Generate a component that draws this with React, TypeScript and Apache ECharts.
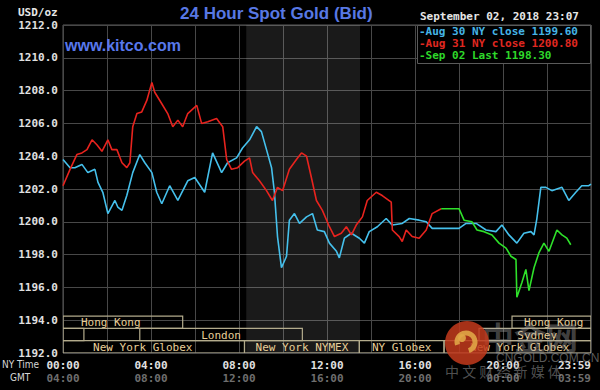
import React, { useEffect, useRef } from "react";
import * as echarts from "echarts";

// ---- data (hours since 00:00 NY time, USD/oz) ----
const aug30Hours = [0, 0.32, 0.54, 0.86, 1.13, 1.45, 1.59, 1.81, 2.04, 2.36, 2.49, 2.68, 2.9, 3.17, 3.49, 3.72, 4.04, 4.26, 4.49, 4.85, 5.22, 5.67, 5.99, 6.44, 6.8, 7.21, 7.48, 7.89, 8.16, 8.48, 8.8, 9.02, 9.25, 9.48, 9.61, 9.75, 9.93, 10.16, 10.29, 10.52, 10.75, 11.07, 11.34, 11.56, 11.88, 12.11, 12.43, 12.56, 12.79, 13.11, 13.47, 13.7, 13.92, 14.29, 14.69, 14.97, 15.42, 15.74, 16.19, 16.51, 16.78, 18.0, 18.32, 18.78, 19.23, 19.68, 19.95, 20.27, 20.63, 20.95, 21.27, 21.41, 21.54, 21.72, 21.95, 22.22, 22.68, 22.99, 23.31, 23.58, 23.9, 24.0];
const aug30Prices = [1203.8, 1203.3, 1203.3, 1203.5, 1203.0, 1203.2, 1202.4, 1201.8, 1200.5, 1201.3, 1200.9, 1200.7, 1201.6, 1203.0, 1204.1, 1203.6, 1203.0, 1201.8, 1201.1, 1202.2, 1201.3, 1202.5, 1202.7, 1201.8, 1204.2, 1203.0, 1203.6, 1203.9, 1204.5, 1205.0, 1205.8, 1205.5, 1204.4, 1203.3, 1201.8, 1199.1, 1197.2, 1197.9, 1200.1, 1200.5, 1199.9, 1200.3, 1200.5, 1199.5, 1199.4, 1198.7, 1198.2, 1197.8, 1199.0, 1199.3, 1199.0, 1198.7, 1199.4, 1199.7, 1200.2, 1199.8, 1199.9, 1200.2, 1200.1, 1200.0, 1199.6, 1199.6, 1199.9, 1199.9, 1199.5, 1199.4, 1199.8, 1199.2, 1198.7, 1199.3, 1199.4, 1199.2, 1200.2, 1202.1, 1202.1, 1201.9, 1202.1, 1201.3, 1201.8, 1202.2, 1202.2, 1202.3];

const aug31Hours = [0, 0.32, 0.63, 0.86, 1.09, 1.32, 1.54, 1.77, 2.04, 2.22, 2.45, 2.68, 2.9, 3.04, 3.17, 3.36, 3.58, 3.81, 4.04, 4.17, 4.49, 4.76, 4.99, 5.22, 5.44, 5.67, 6.08, 6.3, 6.58, 6.98, 7.26, 7.44, 7.66, 7.94, 8.25, 8.48, 8.62, 8.93, 9.25, 9.52, 9.75, 9.98, 10.29, 10.61, 10.84, 11.07, 11.29, 11.52, 11.79, 12.11, 12.34, 12.65, 12.88, 13.11, 13.33, 13.61, 13.83, 14.24, 14.51, 14.92, 14.97, 15.28, 15.42, 15.6, 15.87, 16.19, 16.51, 16.78, 17.19];
const aug31Prices = [1202.2, 1203.2, 1204.1, 1204.2, 1204.4, 1205.0, 1204.7, 1204.3, 1205.0, 1204.4, 1204.4, 1203.6, 1203.3, 1203.6, 1205.8, 1206.6, 1206.7, 1207.4, 1208.5, 1207.9, 1207.2, 1206.6, 1205.8, 1206.2, 1205.8, 1206.6, 1207.1, 1206.0, 1206.1, 1206.3, 1205.8, 1203.8, 1203.2, 1203.3, 1203.7, 1203.9, 1203.0, 1202.5, 1201.9, 1201.3, 1202.1, 1201.9, 1203.2, 1203.8, 1204.2, 1204.0, 1202.7, 1201.3, 1200.7, 1199.7, 1199.1, 1199.3, 1199.7, 1199.2, 1199.8, 1200.3, 1201.3, 1201.8, 1201.6, 1201.2, 1199.5, 1199.1, 1198.8, 1199.5, 1199.1, 1199.0, 1199.5, 1200.5, 1200.8];

const sep02Hours = [17.19, 18.0, 18.23, 18.59, 18.82, 19.14, 19.5, 19.82, 20.14, 20.36, 20.59, 20.63, 20.86, 21.04, 21.18, 21.41, 21.63, 21.86, 22.09, 22.45, 22.68, 22.9, 23.08];
const sep02Prices = [1200.8, 1200.8, 1200.1, 1200.0, 1199.5, 1199.4, 1199.2, 1198.7, 1198.4, 1197.9, 1197.7, 1195.4, 1196.3, 1197.1, 1195.8, 1197.2, 1198.1, 1198.7, 1198.2, 1199.5, 1199.2, 1199.0, 1198.6];

const legendLabels = ["-Aug 30 NY close 1199.60", "-Aug 31 NY close 1200.80", "-Sep 02 Last 1198.30"];
const yTicks = { min: 1192, max: 1212, step: 2 };
const nyTimeLabels: Record<number, string> = { 0: "00:00", 4: "04:00", 8: "08:00", 12: "12:00", 16: "16:00", 20: "20:00", 24: "23:59" };
const gmtTimeLabels: Record<number, string> = { 0: "04:00", 4: "08:00", 8: "12:00", 12: "16:00", 16: "20:00", 20: "00:00", 24: "03:59" };

const nymexSession = [8.33, 13.5];
const sessionStarts = [-1.1, 20.41, -1.0, 3.49, 18.91, -1.0, 8.25, 13.47, 17.32];
const sessionEnds = [5.44, 24.2, 0.95, 10.88, 24.2, 8.25, 13.47, 17.32, 24.2];
const sessionRows = [0, 0, 1, 1, 1, 2, 2, 2, 2];
const sessionNames = ["Hong Kong", "Hong Kong", "", "London", "Sydney", "New York Globex", "New York NYMEX", "NY Globex", "New York Globex"];

const MONO = "'DejaVu Sans Mono', 'Liberation Mono', monospace";
const SANS = "'Liberation Sans', Arial, sans-serif";
const COND = "'DejaVu Sans Condensed', 'DejaVu Sans', sans-serif";

export default function App() {
  const ref = useRef<HTMLDivElement>(null);
  useEffect(() => {
    document.body.style.margin = "0";
    document.body.style.background = "#000";
    const chart = echarts.init(ref.current!, null, { renderer: "svg" });
    const pairs = (h: number[], p: number[]) => h.map((x, i) => [x, p[i]]);
    const rowTop = [1194.25, 1193.5, 1192.75];
    const rowH = 0.75;
    const sessionData = sessionStarts.map((s, i) => [s, sessionEnds[i], sessionRows[i]]);

    chart.setOption({
      animation: false,
      backgroundColor: "#000",
      grid: { left: 63, right: 9, top: 25, bottom: 37, show: true, borderColor: "#5a5a5a", borderWidth: 1, backgroundColor: "#000" },
      xAxis: {
        type: "value",
        min: 0,
        max: 24,
        interval: 2,
        axisLine: { show: false },
        axisTick: { show: false },
        splitLine: { show: true, lineStyle: { color: "#484848", width: 1 } },
        axisLabel: {
          margin: 6,
          alignMaxLabel: "right",
          fontFamily: MONO,
          fontWeight: "bold",
          fontSize: 11,
          lineHeight: 13,
          color: "#dddddd",
          formatter: (v: number) => (nyTimeLabels[v] ? `{a|${nyTimeLabels[v]}}\n{g|${gmtTimeLabels[v]}}` : ""),
          rich: {
            a: { fontFamily: MONO, fontWeight: "bold", fontSize: 11, color: "#e0e0e0", lineHeight: 13 },
            g: { fontFamily: MONO, fontWeight: "bold", fontSize: 11, color: "#6e6e6e", lineHeight: 13 },
          },
        },
      },
      yAxis: {
        type: "value",
        min: yTicks.min,
        max: yTicks.max,
        interval: yTicks.step,
        axisLine: { show: false },
        axisTick: { show: false },
        splitLine: { show: true, lineStyle: { color: "#484848", width: 1 } },
        axisLabel: {
          margin: 5,
          fontFamily: MONO,
          fontWeight: "bold",
          fontSize: 11,
          color: "#e0e0e0",
          formatter: (v: number) => v.toFixed(1),
        },
      },
      series: [
        {
          type: "custom",
          name: "sessions",
          clip: true,
          z: 3,
          data: sessionData,
          renderItem: (params: any, api: any) => {
            const r = api.value(2);
            const p1 = api.coord([api.value(0), rowTop[r]]);
            const p2 = api.coord([api.value(1), rowTop[r] - rowH]);
            const cs = params.coordSys;
            const rect = echarts.graphic.clipRectByRect(
              { x: p1[0], y: p1[1], width: p2[0] - p1[0], height: p2[1] - p1[1] },
              { x: cs.x, y: cs.y, width: cs.width, height: cs.height }
            );
            if (!rect) return null;
            const name = sessionNames[params.dataIndex];
            return {
              type: "group",
              children: [
                { type: "rect", shape: rect, style: { fill: "rgba(0,0,0,0)", stroke: "#b3ab8c", lineWidth: 1.2 } },
                {
                  type: "text",
                  style: {
                    text: name,
                    x: (p1[0] + p2[0]) / 2,
                    y: (p1[1] + p2[1]) / 2 + 0.5,
                    align: "center",
                    verticalAlign: "middle",
                    fill: "#e8cf98",
                    font: `11px ${MONO}`,
                  },
                },
              ],
            };
          },
        },
        {
          type: "line",
          name: "Aug 30",
          data: pairs(aug30Hours, aug30Prices),
          showSymbol: false,
          z: 4,
          lineStyle: { color: "#45c0ec", width: 1.6 },
          markArea: {
            silent: true,
            itemStyle: { color: "rgba(255,255,255,0.1)" },
            data: [[{ xAxis: nymexSession[0] }, { xAxis: nymexSession[1] }]],
          },
        },
        {
          type: "line",
          name: "Aug 31",
          data: pairs(aug31Hours, aug31Prices),
          showSymbol: false,
          z: 5,
          lineStyle: { color: "#e8231e", width: 1.6 },
        },
        {
          type: "line",
          name: "Sep 02",
          data: pairs(sep02Hours, sep02Prices),
          showSymbol: false,
          z: 6,
          lineStyle: { color: "#2ee02a", width: 1.6 },
        },
      ],
      graphic: [
        { type: "text", left: 18, top: 7, style: { text: "USD/oz", fill: "#e6e6e6", font: `bold 11px ${MONO}` } },
        { type: "text", left: 180, top: 5, style: { text: "24 Hour Spot Gold (Bid)", fill: "#5878e4", font: `bold 17px ${SANS}` } },
        { type: "text", left: 65, top: 37, z: 10, style: { text: "www.kitco.com", fill: "#5878ec", font: `bold 16px ${SANS}` } },
        { type: "text", left: 420, top: 11, style: { text: "September 02, 2018 23:07", fill: "#e6e6e6", font: `bold 11px ${MONO}` } },
        { type: "rect", z: 20, shape: { x: 417.5, y: 25.5, width: 173, height: 38 }, style: { fill: "#000", stroke: "#5a5a5a", lineWidth: 1 } },
        { type: "text", z: 21, left: 419, top: 26, style: { text: legendLabels[0], fill: "#45b4e6", font: `bold 11px ${MONO}` } },
        { type: "text", z: 21, left: 419, top: 38, style: { text: legendLabels[1], fill: "#e02820", font: `bold 11px ${MONO}` } },
        { type: "text", z: 21, left: 419, top: 50, style: { text: legendLabels[2], fill: "#2ed82a", font: `bold 11px ${MONO}` } },
        { type: "text", left: 2, top: 359, style: { text: "NY Time", fill: "#d6d6d6", font: `10px ${COND}` } },
        { type: "text", left: 10, top: 372, style: { text: "GMT", fill: "#d6d6d6", font: `10px ${COND}` } },
        // watermark
        { type: "circle", z: 30, shape: { cx: 467, cy: 343, r: 22 }, style: { fill: "#c33a1c", opacity: 0.85 } },
        { type: "arc", z: 31, shape: { cx: 466, cy: 342, r: 9, startAngle: Math.PI * 0.9, endAngle: Math.PI * 2.4 }, style: { stroke: "#e0a546", lineWidth: 5, fill: "none", opacity: 0.9 } },
        { type: "circle", z: 31, shape: { cx: 462, cy: 338, r: 4 }, style: { fill: "#e0a546", opacity: 0.9 } },
        { type: "text", z: 29, left: 482, top: 320, style: { text: "中金网", fill: "rgba(170,170,170,0.4)", font: `bold 32px 'Noto Sans CJK SC'` } },
        { type: "text", z: 29, left: 496, top: 352, style: { text: "CNGOLD.COM.CN", fill: "rgba(150,150,150,0.6)", font: `12px ${SANS}` } },
        { type: "text", z: 29, left: 445, top: 364, style: { text: "中 文 财 经 新 媒 体", fill: "rgba(150,150,150,0.55)", font: `14px 'Noto Sans CJK SC'` } },
      ],
    });
    return () => chart.dispose();
  }, []);
  return <div ref={ref} style={{ width: 600, height: 390, background: "#000" }} />;
}
